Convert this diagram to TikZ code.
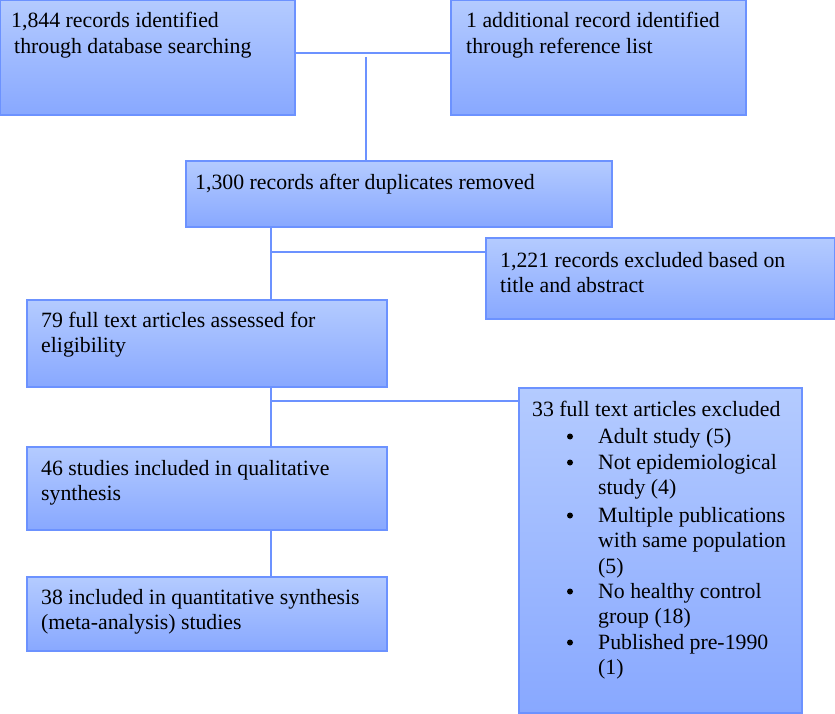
\documentclass[tikz,border=0pt]{standalone}
\usepackage{fontspec}
\setmainfont{Liberation Serif}
\definecolor{boxtop}{RGB}{180,203,255}
\definecolor{boxbot}{RGB}{136,168,255}
\definecolor{edge}{RGB}{108,146,255}
\newcommand{\lns}[1]{\begin{tabular}[t]{@{}l@{}}#1\end{tabular}}
\tikzset{
  box/.style={rectangle, draw=edge, line width=1.2pt, top color=boxtop, bottom color=boxbot, anchor=north west, inner sep=0pt, outer sep=0pt},
  txt/.style={anchor=base west, inner sep=0pt, font=\fontsize{21.8}{25.2}\selectfont},
  gtxt/.style={anchor=base west, inner sep=0pt, font=\fontsize{21.8}{25.9}\selectfont},
  dot/.style={circle, fill=black, draw=none, inner sep=0pt, minimum size=6pt},
  link/.style={draw=edge, line width=1.2pt}
}
\begin{document}
\begin{tikzpicture}[x=1pt,y=-1pt]
\useasboundingbox (0,0) rectangle (835,714);
% boxes
\node[box, minimum width=295pt, minimum height=115pt] (a) at (0,0) {};
\node[box, minimum width=295pt, minimum height=115pt] (b) at (451,0) {};
\node[box, minimum width=426pt, minimum height=66pt] (c) at (186,161) {};
\node[box, minimum width=349pt, minimum height=81pt] (e) at (486,238) {};
\node[box, minimum width=360pt, minimum height=87pt] (d) at (27,300) {};
\node[box, minimum width=283pt, minimum height=325pt] (g) at (519,388) {};
\node[box, minimum width=360pt, minimum height=83pt] (f) at (27,447) {};
\node[box, minimum width=360pt, minimum height=74pt] (h) at (27,577) {};
% texts
\node[txt] (ta) at (11,28) {\lns{1,844 records identified\\\hspace{3pt}through database searching}};
\node[txt] (tb) at (466,28) {\lns{1 additional record identified\\through reference list}};
\node[txt] (tc) at (195,190) {1,300 records after duplicates removed};
\node[txt] (te) at (500,267) {\lns{1,221 records excluded based on\\title and abstract}};
\node[txt] (td) at (41,327) {\lns{79 full text articles assessed for\\eligibility}};
\node[txt] (tf) at (41,475) {\lns{46 studies included in qualitative\\synthesis}};
\node[txt] (th) at (41,604) {\lns{38 included in quantitative synthesis\\(meta-analysis) studies}};
\node[gtxt] (tg) at (532,416) {33 full text articles excluded};
\foreach \yy/\tx [count=\i] in {443/{Adult study (5)},
  469/{Not epidemiological\\study (4)},
  522/{Multiple publications\\with same population\\(5)},
  598/{No healthy control\\group (18)},
  649/{Published pre-1990\\(1)}}{
  \node[dot] (bl\i) at (570,\yy-6.5) {};
  \node[gtxt] (bt\i) at (598,\yy) {\lns{\tx}};
}
% connectors
\coordinate (j1) at (366,53);
\coordinate (j1b) at (366,57);
\coordinate (j2) at (271,252);
\coordinate (j3) at (271,401);
\draw[link] (a.east |- j1) -- (b.west |- j1);
\draw[link] (j1b) -- (c.north -| j1b);
\draw[link] (c.south -| j2) -- (d.north -| j2);
\draw[link] (j2) -- (e.west |- j2);
\draw[link] (d.south -| j3) -- (f.north -| j3);
\draw[link] (j3) -- (g.west |- j3);
\draw[link] (f.south -| j3) -- (h.north -| j3);
\end{tikzpicture}
\end{document}
